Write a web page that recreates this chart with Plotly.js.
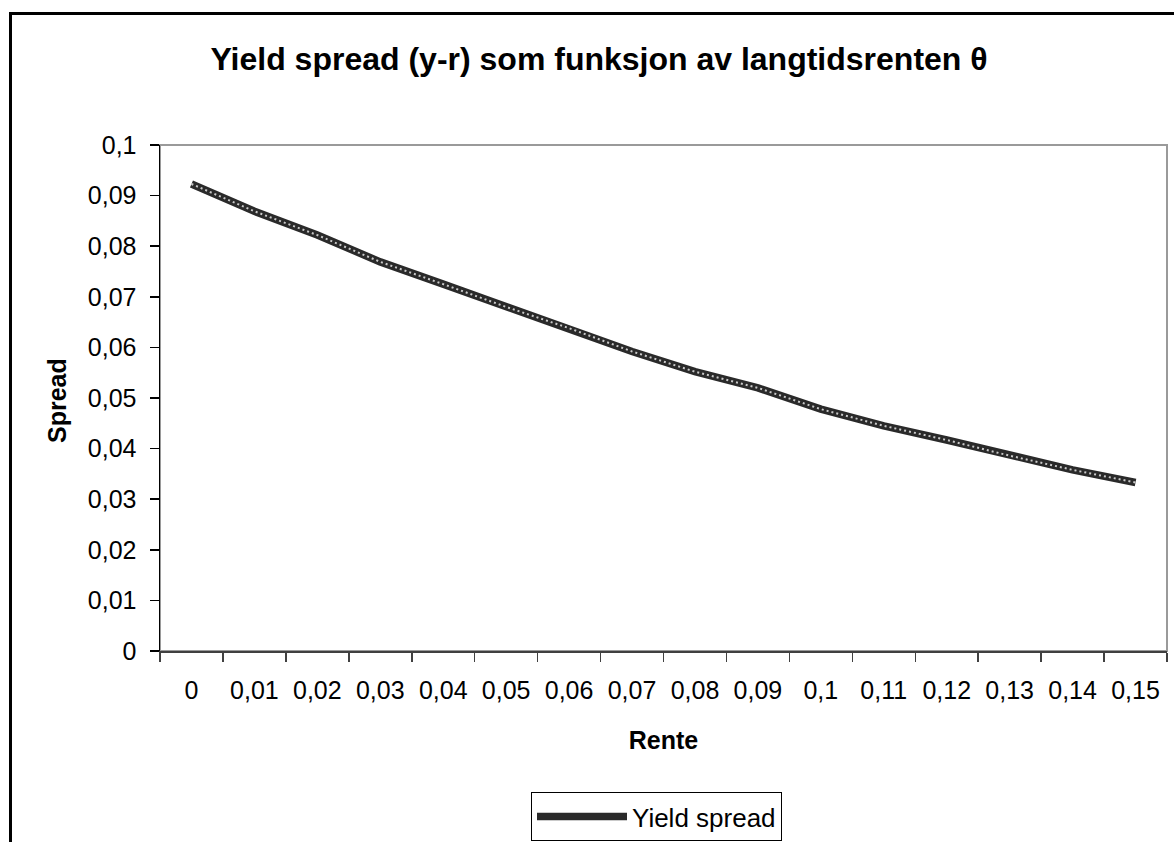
<!DOCTYPE html>
<html>
<head>
<meta charset="utf-8">
<script src="https://cdn.plot.ly/plotly-3.0.1.min.js"></script>
<style>
  html, body { margin: 0; padding: 0; background: #fff; }
  #chart { width: 1174px; height: 842px; }
</style>
</head>
<body>
<div id="chart"></div>
<script>
// Data
const renteLabels = ["0", "0,01", "0,02", "0,03", "0,04", "0,05", "0,06", "0,07",
                     "0,08", "0,09", "0,1", "0,11", "0,12", "0,13", "0,14", "0,15"];
const spread = [0.0923, 0.0869, 0.0822, 0.0769, 0.0725, 0.0680, 0.0638, 0.0592,
                0.0552, 0.0520, 0.0478, 0.0445, 0.0417, 0.0386, 0.0358, 0.0333];
const seriesName = "Yield spread";
const titleText = "Yield spread (y-r) som funksjon av langtidsrenten θ";
const xTitle = "Rente";
const yTitle = "Spread";

const FONT = "Liberation Sans, Arial, sans-serif";

// plot area in pixels: left 160, right 1167, top 145, bottom 651
const W = 1174, H = 842;
const L = 160, R = 1167, T = 145, B = 651;
const px = X => (X - L) / (R - L);
const py = Y => (B - Y) / (B - T);

const traces = [
  {
    x: renteLabels, y: spread, type: "scatter", mode: "lines",
    name: seriesName,
    line: { color: "#2a2a2a", width: 7.5 },
    showlegend: true
  },
  {
    x: renteLabels, y: spread, type: "scatter", mode: "lines",
    name: seriesName,
    line: { color: "rgba(255,255,255,0.75)", width: 2, dash: "2px,3px" },
    showlegend: false, hoverinfo: "skip"
  }
];

const layout = {
  width: W, height: H,
  paper_bgcolor: "#fff", plot_bgcolor: "#fff",
  separators: ", ",
  font: { family: FONT, size: 25, color: "#000" },
  margin: { l: L, r: W - R, t: T, b: H - B, pad: 0, autoexpand: false },
  title: {
    text: titleText,
    font: { family: FONT, size: 32, color: "#000", weight: "bold" },
    x: 599 / W, xanchor: "center", xref: "container",
    y: 1 - 59 / H, yanchor: "middle", yref: "container"
  },
  xaxis: {
    type: "category",
    range: [-0.5, renteLabels.length - 0.5],
    tickson: "boundaries",
    tickangle: 0,
    ticks: "outside", ticklen: 9, tickwidth: 1.5, tickcolor: "#404040",
    showline: true, linecolor: "#404040", linewidth: 2,
    showgrid: false, zeroline: false,
    tickfont: { family: FONT, size: 25, color: "#000" },
    ticklabelstandoff: 16,
    title: { text: xTitle, font: { family: FONT, size: 25, color: "#000", weight: "bold" }, standoff: 28 },
    automargin: false,
    fixedrange: true
  },
  yaxis: {
    range: [0, 0.1], dtick: 0.01, tick0: 0,
    ticks: "outside", ticklen: 9, tickwidth: 1.5, tickcolor: "#000",
    showline: true, linecolor: "#000", linewidth: 1.5,
    showgrid: false, zeroline: false,
    tickfont: { family: FONT, size: 25, color: "#000" },
    ticklabelstandoff: 8,
    automargin: false,
    fixedrange: true
  },
  annotations: [
    { text: yTitle, xref: "paper", yref: "paper", x: px(57), y: py(401),
      xanchor: "center", yanchor: "middle", textangle: -90, showarrow: false,
      font: { family: FONT, size: 25, color: "#000", weight: "bold" } }
  ],
  legend: {
    xref: "container", yref: "container",
    x: 531 / W, xanchor: "left",
    y: 1 - 792 / H, yanchor: "top",
    bgcolor: "#fff", bordercolor: "#000", borderwidth: 1,
    font: { family: FONT, size: 26, color: "#000" },
    itemwidth: 90
  },
  showlegend: true,
  shapes: [
    { type: "rect", xref: "paper", yref: "paper", x0: 0, x1: 1, y0: 0, y1: 1,
      line: { color: "#9a9a9a", width: 2 }, layer: "below" },
    { type: "rect", xref: "paper", yref: "paper",
      x0: px(10.5), x1: px(1185), y0: py(855), y1: py(13.5),
      line: { color: "#000", width: 3 }, fillcolor: "rgba(0,0,0,0)", layer: "below" }
  ]
};

Plotly.newPlot("chart", traces, layout, { displayModeBar: false, staticPlot: true });
</script>
</body>
</html>
